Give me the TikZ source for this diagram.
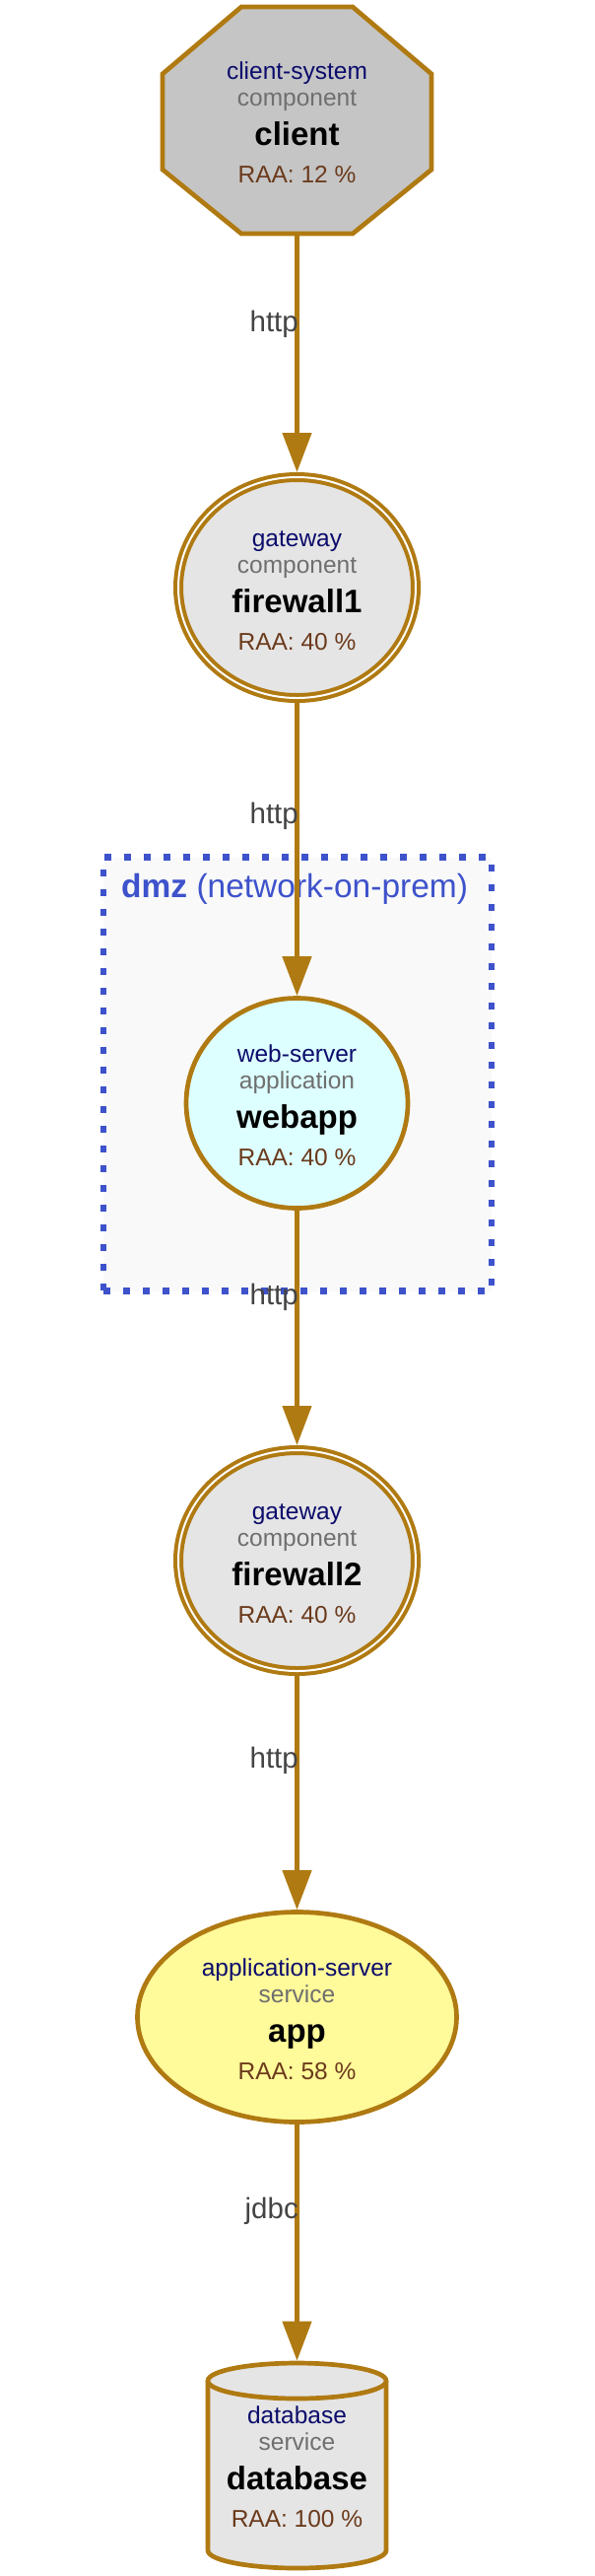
\documentclass[tikz,border=0pt]{standalone}
\usepackage{fontspec}
\setmainfont{Liberation Sans}
\usetikzlibrary{arrows.meta,shapes.geometric}
\definecolor{edgec}{HTML}{B07A12}
\definecolor{typec}{HTML}{0C0C6C}
\definecolor{grayc}{HTML}{6F6F6F}
\definecolor{raac}{HTML}{6B3A1C}
\definecolor{lblc}{HTML}{444444}
\definecolor{dmzblue}{HTML}{3D52CB}
\definecolor{dmzfill}{HTML}{F9F9F9}
\definecolor{grayfill}{HTML}{E5E5E5}
\definecolor{octfill}{HTML}{C5C5C5}
\definecolor{cyanfill}{HTML}{DDFFFF}
\definecolor{yelfill}{HTML}{FFFA9A}
\newcommand\fsub{\fontsize{24.5pt}{28pt}\selectfont}
\newcommand\fmain{\fontsize{33pt}{38pt}\selectfont\bfseries}
\newcommand\flab{\fontsize{29.5pt}{34pt}\selectfont}
\newcommand\fdmz{\fontsize{33.5pt}{38pt}\selectfont}
\newcommand\mktexts[7]{%
  \node[tA] (#1-a) at (#2,#3-42) {#4};
  \node[tB] (#1-b) at (#2,#3-15) {#5};
  \node[tC] (#1-c) at (#2,#3+25) {#6};
  \node[tD] (#1-d) at (#2,#3+63) {#7};
}
\begin{document}
\begin{tikzpicture}[x=1pt,y=-1pt,
  tA/.style={anchor=base,inner sep=0,font=\fsub,text=typec},
  tB/.style={anchor=base,inner sep=0,font=\fsub,text=grayc},
  tC/.style={anchor=base,inner sep=0,font=\fmain,text=black},
  tD/.style={anchor=base,inner sep=0,font=\fsub,text=raac},
  shapeline/.style={draw=edgec,line width=4.7pt,line join=miter},
  ghost/.style={rectangle,inner sep=0,outer sep=2.35pt},
  fwall/.style={ellipse,inner sep=0,draw=edgec,line width=4pt,double=white,double distance=2pt,fill=grayfill,minimum width=241pt,minimum height=224pt,outer sep=5pt},
  plainell/.style={ellipse,inner sep=0,shapeline,outer sep=2.35pt},
  dmzbox/.style={rectangle,inner sep=0,draw=dmzblue,fill=dmzfill,line width=6.5pt,dash pattern=on 7pt off 13pt,minimum width=394pt,minimum height=440pt},
  edge/.style={draw=edgec,line width=4.5pt,-{Triangle[length=40pt,width=29pt]}},
  elabel/.style={anchor=base east,inner sep=0,font=\flab,text=lblc}
]
\useasboundingbox (0,0) rectangle (603,2613);
\fill[white] (0,0) rectangle (603,2613);

% dmz cluster
\node[dmzbox] (dmz) at (302,1089.5) {};
\node[anchor=base west,inner sep=0,font=\fdmz,text=dmzblue] (dmzlabel) at (123,910) {\textbf{dmz} (network-on-prem)};

% client (octagon)
\node[ghost,minimum width=273pt,minimum height=230pt] (client) at (301.5,122) {};
\filldraw[shapeline,fill=octfill] (245,7) -- (358,7) -- (438,75) -- (438,172) -- (358,237) -- (245,237) -- (165,172) -- (165,75) -- cycle;
\mktexts{client}{301.5}{122}{client-system}{component}{client}{RAA: 12 \%}

% firewall1
\node[fwall] (fw1) at (301.5,596) {};
\mktexts{fw1}{301.5}{596}{gateway}{component}{firewall1}{RAA: 40 \%}

% webapp
\node[plainell,fill=cyanfill,minimum width=225pt,minimum height=213pt] (webapp) at (301.5,1119) {};
\mktexts{webapp}{301.5}{1119}{web-server}{application}{webapp}{RAA: 40 \%}

% firewall2
\node[fwall] (fw2) at (301.5,1583) {};
\mktexts{fw2}{301.5}{1583}{gateway}{component}{firewall2}{RAA: 40 \%}

% app
\node[plainell,fill=yelfill,minimum width=324pt,minimum height=213pt] (app) at (301.5,2046) {};
\mktexts{app}{301.5}{2046}{application-server}{service}{app}{RAA: 58 \%}

% database (cylinder)
\node[ghost,minimum width=181pt,minimum height=208pt] (db) at (301.5,2501) {};
\fill[grayfill] (211,2415) rectangle (392,2587);
\fill[grayfill] (301.5,2587) ellipse [x radius=90.5, y radius=18];
\draw[shapeline] (211,2415) -- (211,2587) arc[start angle=180, end angle=0, x radius=90.5, y radius=18] -- (392,2415);
\filldraw[shapeline,fill=grayfill] (301.5,2415) ellipse [x radius=90.5, y radius=18];
\mktexts{db}{301.5}{2500}{database}{service}{database}{RAA: 100 \%}

% edges
\draw[edge] (client) -- (fw1);
\draw[edge] (fw1) -- (webapp);
\draw[edge] (webapp) -- (fw2);
\draw[edge] (fw2) -- (app);
\draw[edge] (app) -- (db);

% edge labels
\node[elabel] (l1) at (303,336) {http};
\node[elabel] (l2) at (303,835) {http};
\node[elabel] (l3) at (303,1323) {http};
\node[elabel] (l4) at (303,1793) {http};
\node[elabel] (l5) at (303,2250) {jdbc};
\end{tikzpicture}
\end{document}
